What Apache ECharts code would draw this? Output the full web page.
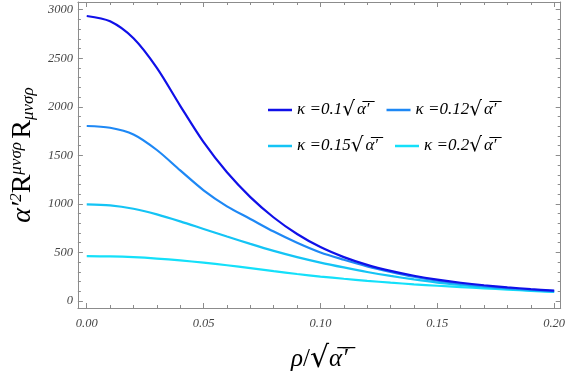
<!DOCTYPE html>
<html><head><meta charset="utf-8">
<script src="https://cdn.jsdelivr.net/npm/echarts@6/dist/echarts.min.js"></script>
<style>html,body{margin:0;padding:0;background:#fff}#c{width:568px;height:382px}</style>
</head><body><div id="c"></div>
<script>
// rho/sqrt(alpha') sample points
const rhoValues = [0,0.01,0.02,0.03,0.04,0.05,0.06,0.07,0.08,0.09,0.10,0.11,0.12,0.13,0.14,0.15,0.16,0.17,0.18,0.19,0.20];
const kappaLabels = ['0.1','0.12','0.15','0.2'];
const seriesNames = kappaLabels.map(k=>'κ='+k+'√α′');
const kappa010 = [2935,2880,2705,2400,2010,1635,1325,1070,860,690,555,452,372,310,260,220,188,162,141,122,106];
const kappa012 = [1802,1784,1715,1555,1345,1140,975,845,715,600,500,425,357,300,250,210,178,152,132,116,102];
const kappa015 = [995,985,950,892,820,742,664,588,516,452,396,346,299,258,222,190,165,144,126,110,96];
const kappa020 = [462,459,451,437,418,395,368,338,307,278,252,229,208,189,172,157,143,130,117,105,93];
const xTickValues = [0,0.05,0.10,0.15,0.20];
const xTickLabels = ['0.00','0.05','0.10','0.15','0.20'];
const yTickValues = [0,500,1000,1500,2000,2500,3000];
const yTickLabels = ['0','500','1000','1500','2000','2500','3000'];

const colors = ['#1010e8','#1e88f5','#14c4f5','#14e0fa'];
const XMIN=-0.00378, XMAX=0.2028, YMIN=-72, YMAX=3079;
const xMinor=[]; for(let i=0;i<=20;i++){ if(i%5) xMinor.push(i/100); }
const yMinor=[]; for(let i=0;i<=30;i++){ if(i%5) yMinor.push(i*100); }
const frame={color:'#8c8c8c',width:1};
const lblFont={fontFamily:'Liberation Serif',fontStyle:'italic',fontSize:12.5,color:'#444'};

function xAx(pos,vals,len,main){
  return {type:'value',position:pos,min:XMIN,max:XMAX,
    axisLine:{show:main!==undefined,onZero:false,lineStyle:frame},
    axisTick:{show:true,inside:true,length:len,customValues:vals,lineStyle:frame},
    axisLabel:main?Object.assign({show:true,customValues:xTickValues,margin:9,
      formatter:v=>{const i=xTickValues.findIndex(t=>Math.abs(t-v)<1e-9);return i>=0?xTickLabels[i]:'';}},lblFont):{show:false},
    splitLine:{show:false}};
}
function yAx(pos,vals,len,main){
  return {type:'value',position:pos,min:YMIN,max:YMAX,
    axisLine:{show:main!==undefined,onZero:false,lineStyle:frame},
    axisTick:{show:true,inside:true,length:len,customValues:vals,lineStyle:frame},
    axisLabel:main?Object.assign({show:true,customValues:yTickValues,margin:5,
      formatter:v=>{const i=yTickValues.findIndex(t=>Math.abs(t-v)<1e-6);return i>=0?yTickLabels[i]:'';}},lblFont):{show:false},
    splitLine:{show:false}};
}
const xAxes=[xAx('bottom',xTickValues,5,true),xAx('bottom',xMinor,3),xAx('top',xTickValues,5,false),xAx('top',xMinor,3)];
xAxes[0].name='{a|ρ}{b|/}{r|√}{a|α̅′̅}';
xAxes[0].nameLocation='middle';xAxes[0].nameGap=36;
xAxes[0].nameTextStyle={rich:{
  a:{fontFamily:'Liberation Serif',fontStyle:'italic',fontSize:25,color:'#000'},
  b:{fontFamily:'Liberation Serif',fontSize:25,color:'#000'},
  r:{fontFamily:'DejaVu Serif',fontSize:30,color:'#000'}}};
const yAxes=[yAx('left',yTickValues,5,true),yAx('left',yMinor,3),yAx('right',yTickValues,5,false),yAx('right',yMinor,3)];
yAxes[0].name='{a|α′}{sup|2}{b|R}{sup|μνσρ} {b|R}{sub|μνσρ}';
yAxes[0].nameLocation='middle';yAxes[0].nameGap=38;
yAxes[0].nameTextStyle={rich:{
  a:{fontFamily:'Liberation Serif',fontStyle:'italic',fontSize:28,color:'#000'},
  b:{fontFamily:'Liberation Serif',fontSize:28,color:'#000'},
  sup:{fontFamily:'Liberation Serif',fontStyle:'italic',fontSize:17,color:'#000',verticalAlign:'top',padding:[0,0,12,0]},
  sub:{fontFamily:'Liberation Serif',fontStyle:'italic',fontSize:17,color:'#000',verticalAlign:'bottom',padding:[10,0,0,0]}}};

const dataSets=[kappa010,kappa012,kappa015,kappa020];
const series=dataSets.map((arr,k)=>({name:seriesNames[k],type:'line',xAxisIndex:0,yAxisIndex:0,
  data:rhoValues.map((x,i)=>[x,arr[i]]),smooth:0.3,symbol:'none',
  lineStyle:{color:colors[k],width:2.2},itemStyle:{color:colors[k]},z:k===0?5:4-k}));

const legText={fontFamily:'Liberation Serif',fontStyle:'italic',fontSize:17,color:'#000',
  rich:{t:{fontFamily:'Liberation Serif',fontStyle:'italic',fontSize:17,color:'#000'},
        r:{fontFamily:'DejaVu Serif',fontSize:20,color:'#000'},
        s:{fontFamily:'Liberation Serif',fontStyle:'italic',fontSize:17,color:'#000',padding:[0,0,0,2]}}};
const legFmt=name=>{const i=seriesNames.indexOf(name);return '{t|κ =0'+kappaLabels[i].slice(1)+'}{r|√}{s|α̅′̅}';};
const chart=echarts.init(document.getElementById('c'),null,{renderer:'canvas'});
chart.setOption({
  animation:false,
  grid:{left:70,top:2,width:492,height:306,containLabel:false},
  xAxis:xAxes,yAxis:yAxes,
  legend:[
    {data:[seriesNames[0],seriesNames[1]],left:263,top:95,icon:'rect',itemWidth:24,itemHeight:2.5,itemGap:17,textStyle:legText,formatter:legFmt},
    {data:[seriesNames[2],seriesNames[3]],left:263,top:131,icon:'rect',itemWidth:24,itemHeight:2.5,itemGap:17,textStyle:legText,formatter:legFmt}
  ],
  series:series
});
</script></body></html>
